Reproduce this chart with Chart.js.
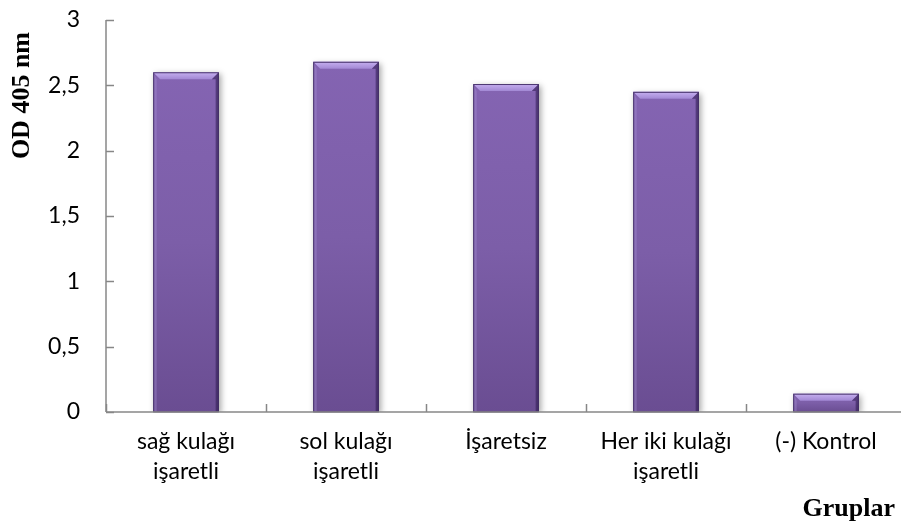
<!DOCTYPE html>
<html>
<head>
<meta charset="utf-8">
<script src="https://cdn.jsdelivr.net/npm/chart.js@4/dist/chart.umd.min.js"></script>
<style>
  html, body { margin: 0; padding: 0; background: #fff; overflow: hidden; }
  #wrap { width: 906px; height: 530px; position: relative; }
</style>
</head>
<body>
<div id="wrap"><canvas id="c" width="906" height="530"></canvas></div>
<script>
// ---- data ----
const categories = [['sağ kulağı', 'işaretli'], ['sol kulağı', 'işaretli'], 'İşaretsiz', ['Her iki kulağı', 'işaretli'], '(-) Kontrol'];
const odValues = [2.60, 2.68, 2.51, 2.45, 0.14];
const yTickValues = [0, 0.5, 1, 1.5, 2, 2.5, 3];
const yTickLabels = ['0', '0,5', '1', '1,5', '2', '2,5', '3'];
const yAxisTitle = 'OD 405 nm';
const xAxisTitle = 'Gruplar';

const AXIS_COLOR = '#878787';

const barStyle = {
  id: 'barStyle',
  beforeDatasetDraw(chart) {
    const ctx = chart.ctx;
    ctx.save();
    ctx.shadowColor = 'rgba(0,0,0,0.35)';
    ctx.shadowBlur = 6;
    ctx.shadowOffsetX = 2;
    ctx.shadowOffsetY = 2;
  },
  afterDatasetDraw(chart) {
    chart.ctx.restore();
  },
  afterDatasetsDraw(chart) {
    const ctx = chart.ctx;
    const meta = chart.getDatasetMeta(0);
    meta.data.forEach(el => {
      const w = el.width, l = el.x - w / 2, r = el.x + w / 2, t = el.y, b = el.base;
      if (![w, l, r, t, b].every(Number.isFinite)) return;
      const bv = Math.min(7, (b - t) / 2);
      ctx.save();
      let g = ctx.createLinearGradient(0, t, 0, t + bv);
      g.addColorStop(0, '#c6b0f0');
      g.addColorStop(1, '#a288d4');
      ctx.fillStyle = g;
      ctx.beginPath();
      ctx.moveTo(l, t); ctx.lineTo(r, t); ctx.lineTo(r - bv, t + bv); ctx.lineTo(l + bv, t + bv); ctx.closePath();
      ctx.fill();
      ctx.fillStyle = 'rgba(170,150,215,0.35)';
      ctx.beginPath();
      ctx.moveTo(l, t); ctx.lineTo(l + bv * 0.5, t + bv); ctx.lineTo(l + bv * 0.5, b); ctx.lineTo(l, b); ctx.closePath();
      ctx.fill();
      ctx.fillStyle = 'rgba(45,25,80,0.55)';
      ctx.beginPath();
      ctx.moveTo(r, t); ctx.lineTo(r, b); ctx.lineTo(r - bv * 0.45, b); ctx.lineTo(r - bv * 0.45, t + bv); ctx.lineTo(r - bv, t + bv); ctx.closePath();
      ctx.fill();
      ctx.strokeStyle = 'rgba(55,35,90,0.85)';
      ctx.lineWidth = 1;
      ctx.strokeRect(l + 0.5, t + 0.5, w - 1, b - t - 0.5);
      ctx.restore();
    });
  }
};

const axesDecor = {
  id: 'axesDecor',
  afterDraw(chart) {
    const ctx = chart.ctx;
    const x = chart.scales.x, y = chart.scales.y;
    const area = chart.chartArea;
    ctx.save();
    ctx.strokeStyle = AXIS_COLOR;
    ctx.lineWidth = 1.5;
    ctx.beginPath();
    ctx.moveTo(area.left, area.top);
    ctx.lineTo(area.left, area.bottom);
    ctx.stroke();
    ctx.beginPath();
    ctx.moveTo(area.left, area.bottom);
    ctx.lineTo(area.right, area.bottom);
    ctx.stroke();
    yTickValues.forEach(v => {
      const py = Math.round(y.getPixelForValue(v)) + 0.5;
      ctx.beginPath();
      ctx.moveTo(area.left, py);
      ctx.lineTo(area.left + 8, py);
      ctx.stroke();
    });
    const step = x.getPixelForValue(1) - x.getPixelForValue(0);
    for (let i = 0; i <= categories.length; i++) {
      const px = Math.round(x.getPixelForValue(i) - step / 2) + 0.5;
      ctx.beginPath();
      ctx.moveTo(px, area.bottom);
      ctx.lineTo(px, area.bottom - 8);
      ctx.stroke();
    }
    ctx.fillStyle = '#000';
    ctx.font = 'bold 26px "Liberation Serif", "DejaVu Serif", serif';
    ctx.textBaseline = 'middle';
    ctx.textAlign = 'right';
    ctx.fillText(xAxisTitle, 895, 509);
    ctx.translate(22, 32);
    ctx.rotate(-Math.PI / 2);
    ctx.textAlign = 'right';
    ctx.fillText(yAxisTitle, 0, 0);
    ctx.restore();
  }
};

new Chart(document.getElementById('c'), {
  type: 'bar',
  data: {
    labels: categories,
    datasets: [{
      data: odValues,
      backgroundColor(ctx) {
        const chart = ctx.chart;
        const y = chart.scales.y;
        const fallback = '#7b5fa6';
        if (!y || ctx.dataIndex === undefined || !chart.chartArea) return fallback;
        const top = y.getPixelForValue(odValues[ctx.dataIndex]);
        const bot = y.getPixelForValue(0);
        if (!Number.isFinite(top) || !Number.isFinite(bot) || top === bot) return fallback;
        const g = chart.ctx.createLinearGradient(0, top, 0, bot);
        g.addColorStop(0, '#8464b2');
        g.addColorStop(0.5, '#7c5ea8');
        g.addColorStop(1, '#6a4d92');
        return g;
      },
      borderWidth: 0,
      categoryPercentage: 1.0,
      barPercentage: 0.41
    }]
  },
  options: {
    responsive: false,
    maintainAspectRatio: false,
    animation: false,
    events: [],
    layout: { padding: { top: 20, right: 0, bottom: 0, left: 0 } },
    plugins: { legend: { display: false }, tooltip: { enabled: false } },
    scales: {
      x: {
        offset: true,
        grid: { display: false, drawTicks: false },
        border: { display: false },
        ticks: {
          color: '#000',
          padding: 14,
          maxRotation: 0,
          autoSkip: false,
          font: { family: 'Lato, "Open Sans", sans-serif', size: 23, lineHeight: 1.32 }
        },
        afterFit(s) { s.height = 118; s.paddingLeft = 0; s.paddingRight = 0; }
      },
      y: {
        min: 0, max: 3,
        afterBuildTicks(s) { s.ticks = yTickValues.map(v => ({ value: v })); },
        grid: { display: false, drawTicks: false },
        border: { display: false },
        ticks: {
          color: '#000',
          padding: 26,
          font: { family: 'Lato, "Open Sans", sans-serif', size: 23 },
          callback(v) { const i = yTickValues.indexOf(v); return i >= 0 ? yTickLabels[i] : ''; }
        },
        afterFit(s) { s.width = 106; s.paddingTop = 0; s.paddingBottom = 0; }
      }
    }
  },
  plugins: [barStyle, axesDecor]
});
</script>
</body>
</html>
